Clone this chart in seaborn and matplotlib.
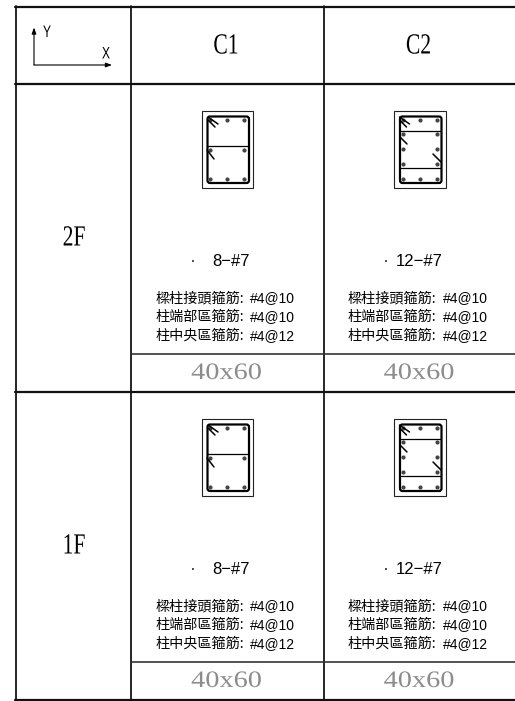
import matplotlib
matplotlib.use('Agg')
import matplotlib.pyplot as plt
import matplotlib.patheffects as pe
from matplotlib.patches import FancyBboxPatch, Rectangle
from matplotlib.transforms import Affine2D
import pandas as pd
import seaborn as sns

# table content
corner_axes = ['Y', 'X']
column_names = ['C1', 'C2']
floor_names = ['2F', '1F']
bar_counts = ['8-#7', '12-#7']
hoop_names = ['樑柱接頭箍筋:', '柱端部區箍筋:', '柱中央區箍筋:']
hoop_specs = ['#4@10', '#4@10', '#4@12']
section_size = '40x60'

# table rules, in picture pixels
rule_xs = [15.5, 131, 323.5]
heavy_ys = [7, 84, 392, 700]
light_ys = [354, 662]
floor_tops = [84, 392]
column_lefts = [131, 323.5]

# rebar in the section, x from the section left edge, y from the floor top
# the middle column only has bars in the top and bottom rows
c1_bar_x = [8.5, 25.5, 42.5]
c1_bar_y = [36, 66, 95]
c2_bar_x = [9, 26, 43]
c2_bar_y = [36, 50, 65, 80, 95]

sns.set_theme(style='white')
plt.rcParams['font.family'] = ['Liberation Sans', 'Noto Sans CJK TC', 'DejaVu Sans']

fig = plt.figure(figsize=(5.15, 7.01), dpi=100)
ax = fig.add_axes([0, 0, 1, 1])
ax.set_xlim(0, 515)
ax.set_ylim(701, 0)
ax.axis('off')


# scales glyphs sideways about cx, the drawing fonts are narrower or wider than ours
class Stretch(pe.AbstractPathEffect):
    def __init__(self, sx, cx):
        super().__init__()
        self.sx = sx
        self.cx = cx

    def draw_path(self, renderer, gc, tpath, affine, rgbFace=None):
        t = Affine2D().translate(-self.cx, 0).scale(self.sx, 1).translate(self.cx, 0)
        renderer.draw_path(gc, tpath, affine + t, rgbFace)


def stretched_text(x, y, s, sx, **kw):
    cx = ax.transData.transform((x, y))[0]
    ax.text(x, y, s, ha='center', va='center', path_effects=[Stretch(sx, cx)], **kw)


def draw_segments(segments, color='black', lw=1.0):
    rows = []
    for i, (x0, y0, x1, y1) in enumerate(segments):
        rows.append({'x': x0, 'y': y0, 'seg': i})
        rows.append({'x': x1, 'y': y1, 'seg': i})
    df = pd.DataFrame(rows)
    sns.lineplot(data=df, x='x', y='y', units='seg', estimator=None, sort=False,
                 color=color, linewidth=lw, ax=ax, legend=False)


def draw_section(x0, top, bar_x, bar_y, tie_ys, hooks):
    ax.add_patch(Rectangle((x0, top + 27), 51.5, 77, fill=False, ec='#222222', lw=0.8))
    ax.add_patch(FancyBboxPatch((x0 + 6, top + 32.5), 41.5, 66.5,
                                boxstyle='round,pad=0,rounding_size=2.5',
                                fill=False, ec='black', lw=1.6))
    # ties and hooks
    draw_segments([(x0 + 5.5, top + y, x0 + 47, top + y) for y in tie_ys], lw=0.9)
    draw_segments([(x0 + a, top + b, x0 + c, top + d) for a, b, c, d in hooks], lw=1.1)
    # longitudinal bars around the perimeter
    pts = []
    for y in bar_y:
        row_x = bar_x if y in (bar_y[0], bar_y[-1]) else [bar_x[0], bar_x[-1]]
        pts += [{'x': x0 + x, 'y': top + y} for x in row_x]
    sns.scatterplot(data=pd.DataFrame(pts), x='x', y='y', color='#444444', s=9, linewidth=0,
                    ax=ax, legend=False)


# table rules
draw_segments([(x, 6, x, 701) for x in rule_xs], lw=1.2)
draw_segments([(15, y, 515, y) for y in heavy_ys], color='#111111', lw=1.6)
draw_segments([(131, y, 515, y) for y in light_ys], color='#333333', lw=1.2)

# corner axes symbol
arrow = dict(arrowstyle='-|>,head_width=0.11,head_length=0.3', color='black', lw=0.8,
             shrinkA=0, shrinkB=0)
ax.annotate('', xy=(34, 27.5), xytext=(34, 65), arrowprops=arrow)
ax.annotate('', xy=(112, 65), xytext=(34, 65), arrowprops=arrow)
stretched_text(47, 32.5, corner_axes[0], 0.72, fontsize=12, color='black')
stretched_text(106, 54, corner_axes[1], 0.72, fontsize=12, color='black')

# headers
for left, name in zip(column_lefts, column_names):
    stretched_text(left + 95, 46.5, name, 0.74, fontsize=21, color='black', family='Liberation Serif')
for top, name in zip(floor_tops, floor_names):
    stretched_text(74, top + 154.5, name, 0.74, fontsize=21, color='black', family='Liberation Serif')

for top in floor_tops:
    draw_section(201.5, top, c1_bar_x, c1_bar_y, [62],
                 [(6.5, 33, 16.5, 40), (6.5, 36, 13.5, 43), (5.5, 66, 12.5, 75)])
    draw_section(394, top, c2_bar_x, c2_bar_y, [47, 84],
                 [(5.5, 33, 15.5, 40), (5.5, 36, 12.5, 43), (6, 53, 13, 60), (39, 70, 47, 78)])

    for k, left in enumerate(column_lefts):
        # main bar note
        dot_x = [193, 385.7][k]
        label_x = [212.7, 396][k]
        ax.text(dot_x, top + 177.5, '\u00b7', ha='center', va='center', fontsize=13, color='#333333')
        ax.text(label_x, top + 177.5, bar_counts[k].replace('-', '\u2212'), ha='left', va='center',
                fontsize=12, color='black')
        # hoop notes
        for j in range(3):
            y = top + 214 + j * 18.8
            ax.text(left + 24.5, y, hoop_names[j], ha='left', va='center', fontsize=10.2,
                    color='black', family=['Noto Sans CJK TC', 'Liberation Sans'])
            ax.text(left + 119, y, hoop_specs[j], ha='left', va='center', fontsize=10, color='black')
        stretched_text(left + 95.5, top + 289.5, section_size, 1.2, fontsize=17, color='#8c8c8c',
                       family='Liberation Serif')

fig.savefig('out.png', dpi=100, facecolor='white')
